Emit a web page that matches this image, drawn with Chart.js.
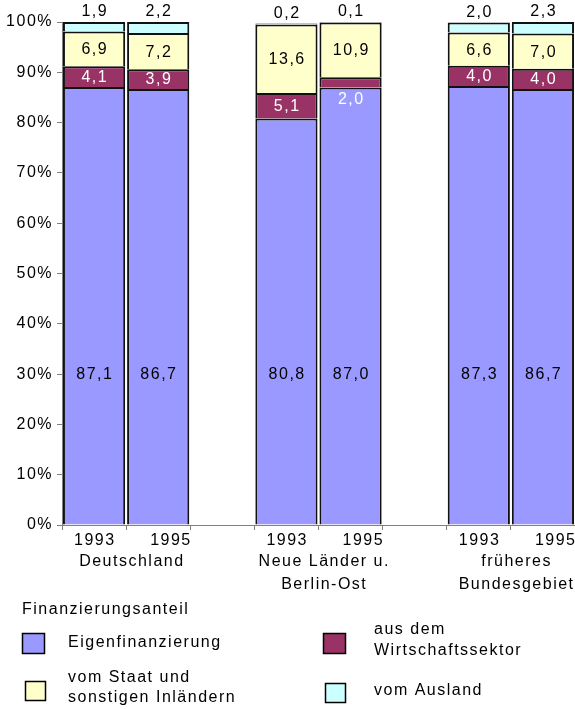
<!DOCTYPE html>
<html>
<head>
<meta charset="utf-8">
<script src="https://cdn.jsdelivr.net/npm/chart.js@4.4.1/dist/chart.umd.min.js"></script>
<style>
  html, body { margin: 0; padding: 0; background: #fff; }
  #wrap { width: 575px; height: 709px; position: relative; }
</style>
</head>
<body>
<div id="wrap"><canvas id="c" width="575" height="709"></canvas></div>
<script>
// Category slots: two years per region, empty slots separate the regions
const slots = ['1993', '1995', '', '1993', '1995', '', '1993', '1995'];
const regions = [['Deutschland'], ['Neue Länder u.', 'Berlin-Ost'], ['früheres', 'Bundesgebiet']];

// Finanzierungsanteil in %
const eigen      = [87.1, 86.7, null, 80.8, 87.0, null, 87.3, 86.7];
const wirtschaft = [4.1, 3.9, null, 5.1, 2.0, null, 4.0, 4.0];
const staat      = [6.9, 7.2, null, 13.6, 10.9, null, 6.6, 7.0];
const ausland    = [1.9, 2.2, null, 0.2, 0.1, null, 2.0, 2.3];

const seriesNames = ['Eigenfinanzierung', 'aus dem Wirtschaftssektor', 'vom Staat und sonstigen Inländern', 'vom Ausland'];
const legendTitle = 'Finanzierungsanteil';

const COLORS = ['#9999FF', '#993366', '#FFFFCC', '#CCFFFF'];
const FONT = '"Liberation Sans", Arial, sans-serif';
const SPACING = 1.5;

const fmt = v => v.toFixed(1).replace('.', ',');

function ds(label, data, color) {
  return {
    label, data,
    backgroundColor: color,
    borderColor: '#111',
    borderWidth: 2,
    barPercentage: 0.97,
    categoryPercentage: 1.0
  };
}

const textSpacing = {
  id: 'textSpacing',
  beforeDraw(chart) { chart.ctx.letterSpacing = SPACING + 'px'; }
};

function centeredText(ctx, txt, x, y) {
  ctx.fillText(txt, x + SPACING / 2, y);
}

const barLabels = {
  id: 'barLabels',
  afterDatasetsDraw(chart) {
    const ctx = chart.ctx;
    const yScale = chart.scales.y;
    const m = [0, 1, 2, 3].map(i => chart.getDatasetMeta(i).data);
    ctx.save();
    ctx.letterSpacing = SPACING + 'px';
    ctx.font = '16px ' + FONT;
    ctx.textAlign = 'center';
    ctx.textBaseline = 'middle';
    slots.forEach((s, i) => {
      if (eigen[i] == null) return;
      const e = m[0][i], w = m[1][i], st = m[2][i], a = m[3][i];
      // Eigenfinanzierung
      ctx.fillStyle = '#000';
      centeredText(ctx, fmt(eigen[i]), e.x, yScale.getPixelForValue(30));
      // Wirtschaftssektor (white)
      ctx.fillStyle = '#fff';
      const wh = w.base - w.y;
      if (wh > 14) centeredText(ctx, fmt(wirtschaft[i]), w.x, (w.y + w.base) / 2 + 1);
      else centeredText(ctx, fmt(wirtschaft[i]), w.x, w.base + 12);
      // Staat
      ctx.fillStyle = '#000';
      centeredText(ctx, fmt(staat[i]), st.x, (st.y + st.base) / 2 + 1);
      // Ausland, above the bar
      centeredText(ctx, fmt(ausland[i]), a.x, a.y - 10);
    });
    ctx.restore();
  }
};

const axisText = {
  id: 'axisText',
  afterDraw(chart) {
    const ctx = chart.ctx;
    const x = chart.scales.x;
    ctx.save();
    ctx.letterSpacing = SPACING + 'px';
    ctx.font = '16px ' + FONT;
    ctx.fillStyle = '#000';
    ctx.textAlign = 'center';
    ctx.textBaseline = 'middle';
    // year labels
    slots.forEach((s, i) => {
      if (!s) return;
      const off = s === '1995' ? 12 : 0;
      centeredText(ctx, s, x.getPixelForValue(i) + off, 541);
    });
    // region labels
    regions.forEach((lines, g) => {
      const cx = (x.getPixelForValue(g * 3) + x.getPixelForValue(g * 3 + 1)) / 2 + 5;
      lines.forEach((ln, k) => centeredText(ctx, ln, cx, 562 + k * 23));
    });

    // legend
    ctx.textAlign = 'left';
    ctx.font = '16px ' + FONT;
    ctx.fillText(legendTitle, 22, 610);
    const items = [
      { box: [22.5, 633.5, 22, 20], lines: ['Eigenfinanzierung'], tx: 68, ty: [643] },
      { box: [323.5, 633.5, 22, 20], lines: ['aus dem', 'Wirtschaftssektor'], tx: 374, ty: [630, 651] },
      { box: [25.5, 681.5, 20, 19], lines: ['vom Staat und', 'sonstigen Inländern'], tx: 68, ty: [678, 698] },
      { box: [325.5, 683.5, 20, 19], lines: ['vom Ausland'], tx: 374, ty: [691] }
    ];
    items.forEach((it, idx) => {
      const [bx, by, bw, bh] = it.box;
      ctx.fillStyle = COLORS[idx];
      ctx.fillRect(bx, by, bw, bh);
      ctx.lineWidth = 1.5;
      ctx.strokeStyle = '#000';
      ctx.strokeRect(bx, by, bw, bh);
      ctx.fillStyle = '#000';
      it.lines.forEach((ln, k) => ctx.fillText(ln, it.tx, it.ty[k]));
    });
    ctx.restore();
  }
};

new Chart(document.getElementById('c'), {
  type: 'bar',
  data: {
    labels: slots,
    datasets: [
      ds(seriesNames[0], eigen, COLORS[0]),
      ds(seriesNames[1], wirtschaft, COLORS[1]),
      ds(seriesNames[2], staat, COLORS[2]),
      ds(seriesNames[3], ausland, COLORS[3])
    ]
  },
  options: {
    responsive: false,
    animation: false,
    devicePixelRatio: 1,
    layout: { padding: { top: 22, right: 0, bottom: 0, left: 0 } },
    plugins: { legend: { display: false }, tooltip: { enabled: false } },
    scales: {
      x: {
        stacked: true,
        grid: { offset: true, drawOnChartArea: false, tickLength: 5, color: '#808080' },
        border: { color: '#808080' },
        ticks: { display: false },
        afterFit: s => { s.height = 184; }
      },
      y: {
        stacked: true,
        min: 0, max: 100,
        ticks: {
          stepSize: 10,
          callback: v => v + '%',
          color: '#000',
          font: { family: FONT, size: 16 },
          padding: 4
        },
        grid: { drawOnChartArea: false, tickLength: 5, color: '#808080' },
        border: { color: '#808080' },
        afterFit: s => { s.width = 62; }
      }
    }
  },
  plugins: [textSpacing, barLabels, axisText]
});
</script>
</body>
</html>
